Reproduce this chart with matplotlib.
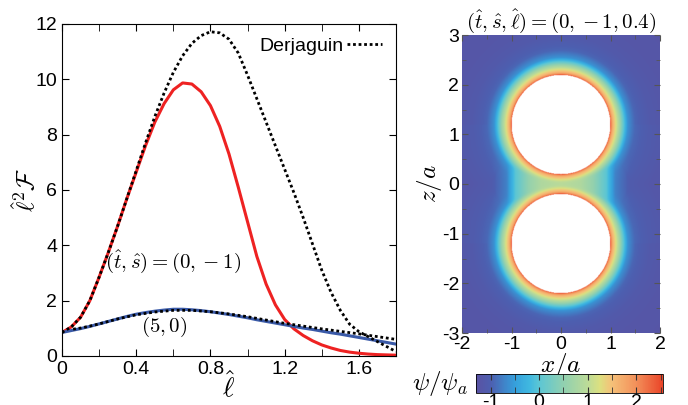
import numpy as np
import matplotlib
matplotlib.use('Agg')
import matplotlib.pyplot as plt
from matplotlib.colors import LinearSegmentedColormap, Normalize
from matplotlib.ticker import MultipleLocator

plt.rcParams['font.family'] = ['Liberation Sans', 'DejaVu Sans']
plt.rcParams['mathtext.fontset'] = 'cm'
plt.rcParams['axes.unicode_minus'] = False

# left panel: scaled force vs separation (step 0.05)
ell = [0, 0.05, 0.1, 0.15, 0.2, 0.25, 0.3, 0.35, 0.4, 0.45, 0.5, 0.55, 0.6, 0.65,
       0.7, 0.75, 0.8, 0.85, 0.9, 0.95, 1.0, 1.05, 1.1, 1.15, 1.2, 1.25, 1.3, 1.35,
       1.4, 1.45, 1.5, 1.55, 1.6, 1.65, 1.7, 1.75, 1.8]
force_red = [0.85, 1.05, 1.4, 2.0, 2.85, 3.75, 4.7, 5.7, 6.65, 7.6, 8.45, 9.12, 9.62, 9.87,
             9.83, 9.55, 9.05, 8.3, 7.3, 6.1, 4.85, 3.6, 2.6, 1.85, 1.32, 0.98, 0.74, 0.55,
             0.4, 0.29, 0.2, 0.14, 0.1, 0.07, 0.05, 0.04, 0.03]
derj_red = [0.85, 1.05, 1.4, 2.0, 2.85, 3.75, 4.7, 5.7, 6.7, 7.7, 8.65, 9.5, 10.25, 10.85,
            11.3, 11.58, 11.72, 11.68, 11.45, 10.95, 10.15, 9.3, 8.45, 7.6, 6.75, 5.9, 5.0, 4.05,
            3.1, 2.3, 1.65, 1.15, 0.88, 0.7, 0.52, 0.34, 0.16]
force_blue = [0.85, 0.92, 0.99, 1.07, 1.16, 1.25, 1.34, 1.43, 1.51, 1.57, 1.62, 1.66, 1.69, 1.69,
              1.67, 1.64, 1.6, 1.55, 1.5, 1.44, 1.38, 1.31, 1.25, 1.19, 1.13, 1.07, 1.01, 0.96,
              0.9, 0.84, 0.79, 0.73, 0.67, 0.61, 0.55, 0.49, 0.43]
ell_derj_blue = [0.06, 0.1, 0.15, 0.2, 0.3, 0.4, 0.5, 0.6, 0.7, 0.8, 0.9, 1.0, 1.1, 1.2,
                 1.3, 1.4, 1.5, 1.6, 1.7, 1.8]
derj_blue = [0.97, 1.01, 1.08, 1.16, 1.34, 1.49, 1.59, 1.65, 1.65, 1.6, 1.52, 1.42, 1.3, 1.18,
             1.08, 0.98, 0.89, 0.8, 0.7, 0.6]

# right panel: field profile away from each sphere surface
sphere_z = [1.2, -1.2]
sphere_r = 1.0
dist_prof = [0, 0.015, 0.05, 0.12, 0.2, 0.27, 0.35, 0.5, 0.8, 1.2, 3.0]
psi_prof = [2.55, 2.1, 1.65, 1.2, 0.6, 0.0, -0.6, -0.95, -1.15, -1.25, -1.3]
# field in the neck between the spheres vs |x|
neck_x = [0, 0.4, 0.65, 0.92, 1.1, 1.4, 2.0]
neck_psi = [0.95, 0.85, 0.55, 0.0, -0.75, -1.15, -1.3]

cmap_vals = [-1.3, -1.0, -0.5, -0.2, 0.0, 0.5, 1.0, 1.25, 1.5, 2.0, 2.55]
cmap_cols = ['#5a52a3', '#4d5fb0', '#35a0dc', '#40b8e0', '#5cc6d4', '#90d0b0',
             '#bcdb98', '#dce080', '#f5c078', '#f3905a', '#ea4428']
vmin, vmax = -1.3, 2.55

fig = plt.figure(figsize=(6.88, 4.05), dpi=100)

# ---- left panel
ax = fig.add_axes([62/688, 1-356/405, 334/688, 332/405])
ax.plot(ell, force_red, color='#ee2222', lw=2.2, zorder=2)
ax.plot(ell, force_blue, color='#3a5aa8', lw=2.2, zorder=2)
ax.plot(ell, derj_red, color='black', lw=2, ls=(0, (1, 1)), zorder=3, label='Derjaguin')
ax.plot(ell_derj_blue, derj_blue, color='black', lw=2, ls=(0, (1, 1)), zorder=3)
ax.set_xlim(0, 1.8)
ax.set_ylim(0, 12)
ax.xaxis.set_major_locator(MultipleLocator(0.4))
ax.xaxis.set_minor_locator(MultipleLocator(0.2))
ax.yaxis.set_major_locator(MultipleLocator(2))
ax.set_xticklabels(['0' if abs(t) < 1e-9 else f'{t:g}' for t in ax.get_xticks()])
ax.tick_params(which='both', direction='in', top=True, right=True, labelsize=14)
ax.tick_params(which='both', length=5)
ax.set_xlabel(r'$\hat{\ell}$', fontsize=20, labelpad=-5)
ax.set_ylabel(r'$\hat{\ell}^2\mathcal{F}$', fontsize=18)
ax.yaxis.set_label_coords(-0.065, 0.5)
ax.legend(loc='upper right', frameon=False, fontsize=14, handlelength=1.8,
          markerfirst=False, borderaxespad=0.3, handletextpad=0.2)
ax.text(0.6, 3.4, r'$(\hat{t},\hat{s})=(0,-1)$', fontsize=15, ha='center', va='center')
ax.text(0.55, 1.05, r'$(5,0)$', fontsize=15, ha='center', va='center')

# ---- right panel
x = np.linspace(-2, 2, 401)
z = np.linspace(-3, 3, 601)
X, Z = np.meshgrid(x, z)
fields = []
inside = np.zeros_like(X, dtype=bool)
for zc in sphere_z:
    d = np.sqrt(X**2 + (Z - zc)**2) - sphere_r
    inside |= d < 0
    fields.append(np.interp(np.clip(d, 0, None), dist_prof, psi_prof))
neck = np.interp(np.abs(X), neck_x, neck_psi)
fields.append(np.where(np.abs(Z) < 1.2, neck, -2.0))
F = np.stack(fields)
tau = 0.12
psi = tau * np.log(np.exp(F / tau).sum(axis=0))
psi = np.minimum(psi, F.max(axis=0) + 0.08)
psi = np.ma.masked_where(inside, psi)

cmap = LinearSegmentedColormap.from_list(
    'field', list(zip([(v - vmin) / (vmax - vmin) for v in cmap_vals], cmap_cols)))
cmap.set_bad('white')

ax2 = fig.add_axes([462/688, 1-333/405, 198/688, 298/405])
im = ax2.imshow(psi, extent=[-2, 2, -3, 3], origin='lower', cmap=cmap,
                norm=Normalize(vmin, vmax), interpolation='bilinear', aspect='auto')
ax2.set_xlim(-2, 2)
ax2.set_ylim(-3, 3)
ax2.xaxis.set_major_locator(MultipleLocator(1))
ax2.xaxis.set_minor_locator(MultipleLocator(0.5))
ax2.yaxis.set_major_locator(MultipleLocator(1))
ax2.yaxis.set_minor_locator(MultipleLocator(0.5))
ax2.tick_params(which='both', direction='in', top=True, right=True, labelsize=14,
                color='#555555', pad=2)
ax2.tick_params(which='major', length=4)
ax2.tick_params(which='minor', length=3)
for s in ax2.spines.values():
    s.set_visible(False)
ax2.set_xlabel(r'$x/a$', fontsize=18, labelpad=-1)
ax2.set_ylabel(r'$z/a$', fontsize=18)
ax2.yaxis.set_label_coords(-0.09, 0.5)
ax2.set_title(r'$(\hat{t},\hat{s},\hat{\ell})=(0,-1,0.4)$', fontsize=15, pad=4)

cax = fig.add_axes([476/688, 1-393/405, 187/688, 19/405])
cb = fig.colorbar(im, cax=cax, orientation='horizontal', ticks=[-1, 0, 1, 2])
cb.ax.xaxis.set_minor_locator(MultipleLocator(0.5))
cb.ax.tick_params(which='both', direction='in', labelsize=14, length=4, pad=1,
                  top=True, color='#333333')
cb.outline.set_linewidth(0.6)
fig.text(440/688, 1-383/405, r'$\psi/\psi_a$', fontsize=18, ha='center', va='center')

fig.savefig('out.png', dpi=100)
